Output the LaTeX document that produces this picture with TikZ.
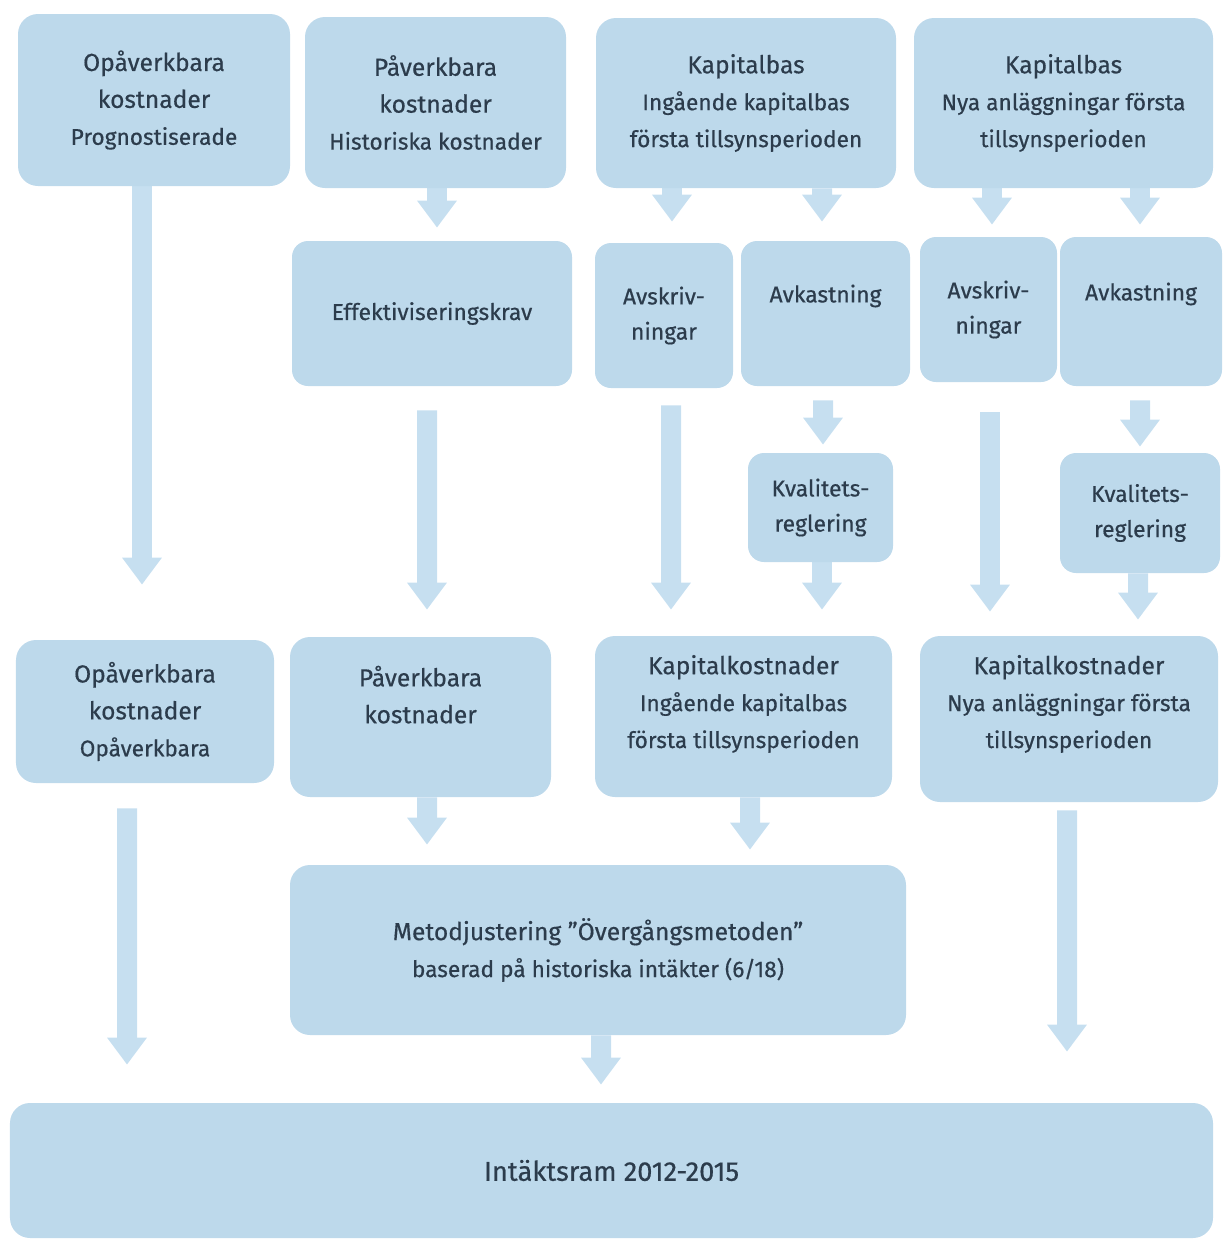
\documentclass[tikz,border=0pt]{standalone}
\usepackage{fontspec}
\setmainfont{Fira Sans}[FakeBold=0.5]
\usepackage{tikz}
\usetikzlibrary{arrows.meta}
\pgfdeclarelayer{nodelayer}
\pgfdeclarelayer{edgelayer}
\pgfsetlayers{edgelayer,nodelayer,main}
\definecolor{boxcol}{RGB}{189,217,235}
\definecolor{arrowcol}{RGB}{198,223,240}
\definecolor{textcol}{RGB}{44,60,76}
\newcommand{\subtext}{\fontsize{12.9}{20}\selectfont}
\newcommand{\midtext}{\fontsize{13}{20}\selectfont}
\tikzstyle{box}=[fill=boxcol, draw=none, rounded corners=0.4cm, inner sep=0pt, align=center, text=textcol, font=\fontsize{14}{21}\selectfont]
\tikzstyle{small box}=[box, rounded corners=0.32cm, font=\midtext]
\tikzstyle{block arrow}=[draw=arrowcol, line width=0.4cm, -{Triangle[width=0.76cm,length=0.54cm]}]

\begin{document}
\begin{tikzpicture}
	\useasboundingbox (0, 0) rectangle (24.46, -24.84);
	\begin{pgfonlayer}{nodelayer}
		\node [style=box, minimum width=5.44cm, minimum height=3.44cm] (0) at (3.08, -2.00) {Opåverkbara\\kostnader\\\subtext Prognostiserade};
		\node [style=box, minimum width=5.22cm, minimum height=3.42cm] (1) at (8.71, -2.05) {Påverkbara\\kostnader\\\subtext Historiska kostnader};
		\node [style=box, minimum width=6.00cm, minimum height=3.40cm] (2) at (14.92, -2.06) {Kapitalbas\\\subtext Ingående kapitalbas\\\subtext första tillsynsperioden};
		\node [style=box, minimum width=5.98cm, minimum height=3.40cm] (3) at (21.27, -2.06) {Kapitalbas\\\subtext Nya anläggningar första\\\subtext tillsynsperioden};
		\node [style=small box, minimum width=5.60cm, minimum height=2.90cm] (4) at (8.64, -6.27) {Effektiviseringskrav};
		\node [style=small box, minimum width=2.76cm, minimum height=2.90cm] (5) at (13.28, -6.31) {Avskriv-\\ningar};
		\node [style=small box, minimum width=3.38cm, minimum height=2.90cm, text depth=0.8cm] (6) at (16.51, -6.27) {Avkastning};
		\node [style=small box, minimum width=2.74cm, minimum height=2.90cm] (7) at (19.77, -6.19) {Avskriv-\\ningar};
		\node [style=small box, minimum width=3.24cm, minimum height=2.98cm, text depth=0.8cm] (8) at (22.82, -6.23) {Avkastning};
		\node [style=small box, minimum width=2.90cm, minimum height=2.18cm] (9) at (16.41, -10.15) {Kvalitets-\\reglering};
		\node [style=small box, minimum width=3.20cm, minimum height=2.40cm] (10) at (22.80, -10.26) {Kvalitets-\\reglering};
		\node [style=box, minimum width=5.16cm, minimum height=2.86cm] (11) at (2.90, -14.23) {Opåverkbara\\kostnader\\\subtext Opåverkbara};
		\node [style=box, minimum width=5.22cm, minimum height=3.20cm, text depth=0.9cm] (12) at (8.41, -14.34) {Påverkbara\\kostnader};
		\node [style=box, minimum width=5.94cm, minimum height=3.22cm, text depth=0.6cm] (13) at (14.87, -14.33) {Kapitalkostnader\\\subtext Ingående kapitalbas\\\subtext första tillsynsperioden};
		\node [style=box, minimum width=5.96cm, minimum height=3.32cm, text depth=0.7cm] (14) at (21.38, -14.38) {Kapitalkostnader\\\subtext Nya anläggningar första\\\subtext tillsynsperioden};
		\node [style=box, minimum width=12.32cm, minimum height=3.40cm] (15) at (11.96, -19.00) {Metodjustering ”Övergångsmetoden”\\\subtext baserad på historiska intäkter (6/18)};
		\node [style=box, minimum width=24.06cm, minimum height=2.70cm, font=\fontsize{15.5}{21}\selectfont] (16) at (12.23, -23.41) {Intäktsram 2012-2015};
	\end{pgfonlayer}
	\begin{pgfonlayer}{edgelayer}
		\draw [style=block arrow, shorten >=1.1cm] ([xshift=-0.24cm]0.south) to ([xshift=-0.06cm]11.north);
		\draw [style=block arrow, shorten >=0.26cm] ([xshift=0.03cm]1.south) to ([xshift=0.1cm]4.north);
		\draw [style=block arrow, shorten <=0.48cm, shorten >=0.54cm] ([xshift=-0.1cm]4.south) to ([xshift=0.13cm]12.north);
		\draw [style=block arrow, shorten >=0.42cm] ([xshift=-1.48cm]2.south) to ([xshift=0.16cm]5.north);
		\draw [style=block arrow, shorten >=0.38cm] ([xshift=1.52cm]2.south) to ([xshift=-0.07cm]6.north);
		\draw [style=block arrow, shorten <=0.34cm, shorten >=0.52cm] ([xshift=0.14cm]5.south) to ([xshift=-1.45cm]13.north);
		\draw [style=block arrow, shorten <=0.28cm, shorten >=0.16cm] ([xshift=-0.05cm]6.south) to ([xshift=0.05cm]9.north);
		\draw [style=block arrow, shorten >=0.52cm] ([xshift=0.03cm]9.south) to ([xshift=1.57cm]13.north);
		\draw [style=block arrow, shorten >=0.24cm] ([xshift=-1.43cm]3.south) to ([xshift=0.07cm]7.north);
		\draw [style=block arrow, shorten >=0.24cm] ([xshift=1.53cm]3.south) to ([xshift=-0.02cm]8.north);
		\draw [style=block arrow, shorten <=0.6cm, shorten >=0.48cm] ([xshift=0.03cm]7.south) to ([xshift=-1.58cm]14.north);
		\draw [style=block arrow, shorten <=0.28cm, shorten >=0.12cm] ([xshift=-0.02cm]8.south) to (10.north);
		\draw [style=block arrow, shorten >=0.32cm] ([xshift=-0.04cm]10.south) to ([xshift=1.38cm]14.north);
		\draw [style=block arrow, shorten <=0.5cm, shorten >=0.76cm] ([xshift=-0.36cm]11.south) to ([xshift=-9.69cm]16.north);
		\draw [style=block arrow, shorten >=0.4cm] ([xshift=0.13cm]12.south) to ([xshift=-3.42cm]15.north);
		\draw [style=block arrow, shorten >=0.3cm] ([xshift=0.13cm]13.south) to ([xshift=3.04cm]15.north);
		\draw [style=block arrow, shorten <=0.16cm, shorten >=1.02cm] ([xshift=-0.04cm]14.south) to ([xshift=9.11cm]16.north);
		\draw [style=block arrow, shorten >=0.36cm] ([xshift=0.06cm]15.south) to ([xshift=-0.21cm]16.north);
	\end{pgfonlayer}
\end{tikzpicture}
\end{document}
